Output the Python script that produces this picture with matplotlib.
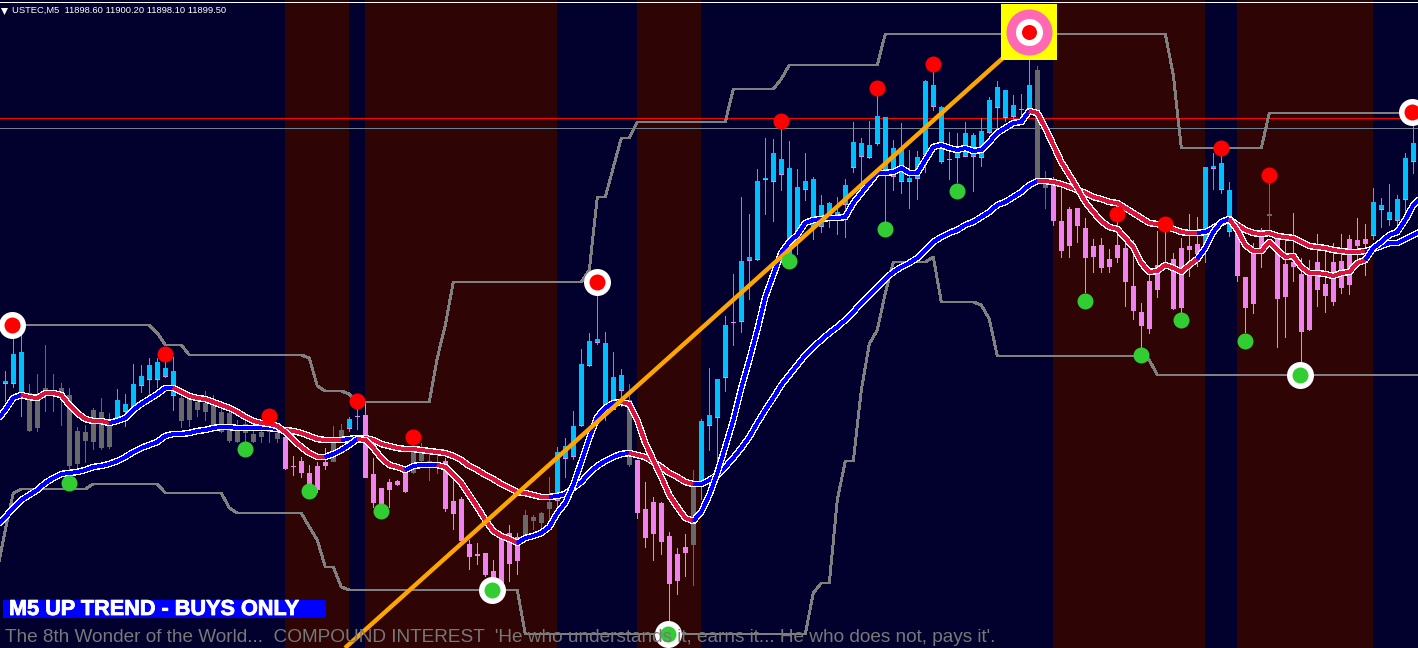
import numpy as np
import matplotlib
matplotlib.use("Agg")
import matplotlib.pyplot as plt
import matplotlib.patheffects as pe

WIDTH, HEIGHT = 1418, 648
X0, STEP = 5.3, 8.0

# Candles; y values are read from the picture on the chart's vertical scale (no price axis is shown)
kinds = list(
    "bbb" + "g"*11 + "b"*8 + "g"*13 + "p"*6 + "gg" + "bb" + "p"*6 + "gggg" + "p"*10 + "gggg"
    + "b"*9 + "g" + "p"*7 + "g" + "b"*42 + "gg" + "p"*19 + "b"*4 + "pppp" + "g" + "p"*12 + "b"*6)
body_top = [381,354,352,393,401,388,393,388,395,431,432,410,412,422,400,404,384,376,365,362,368,371,398,399,402,403,403,412,413,430,424,434,432,428,433,
            437,466,461,473,466,462,443,430,419,416,415,474,488,482,481,473,452,447,461,462,461,501,499,544,554,553,571,538,533,537,515,517,513,502,
            452,446,426,364,341,339,343,377,375,400,460,509,502,503,536,554,547,485,421,415,379,325,322,261,257,181,178,153,159,168,187,181,179,205,203,212,185,142,143,145,116,117,148,150,178,157,81,85,107,159,150,133,135,131,100,87,90,105,109,85,
            70,183,185,221,209,208,228,246,245,259,245,248,286,312,281,265,263,259,248,246,244,167,166,163,190,233,277,252,230,214,238,264,262,274,275,262,284,262,261,239,240,239,202,205,212,199,158,143]
body_bot = [384,384,394,431,428,395,396,394,466,464,441,442,448,447,418,412,410,386,380,380,377,396,421,420,410,412,427,432,441,442,433,442,437,432,439,
            469,467,473,490,490,466,462,440,429,417,478,503,515,490,485,492,473,461,463,463,509,514,541,557,556,575,580,583,564,561,537,521,523,509,
            501,459,457,426,366,343,410,410,391,465,513,538,534,542,584,581,553,545,485,426,418,378,323,322,261,260,180,182,175,257,240,190,227,227,218,215,205,168,157,158,144,170,177,182,182,179,155,107,162,160,158,157,157,158,133,108,118,117,110,110,
            178,188,221,251,246,226,258,257,268,267,258,282,311,326,329,290,265,309,308,250,254,244,169,190,232,276,308,304,248,216,299,297,267,332,330,290,296,302,288,285,246,244,236,210,220,221,200,162]
wick_hi = [371,339,335,384,374,345,374,383,388,427,425,408,398,413,389,394,364,365,358,358,353,357,393,392,397,391,395,403,407,420,420,425,422,423,428,
           433,456,457,465,462,448,426,424,417,408,402,458,488,479,480,470,443,443,453,453,458,480,497,540,543,553,560,537,525,533,510,515,512,477,
           447,438,411,349,333,295,332,352,369,384,460,482,497,502,532,548,534,470,419,368,379,316,274,197,214,169,138,139,121,141,169,153,177,195,202,197,179,122,138,121,88,117,140,123,150,151,80,70,106,132,133,122,133,118,97,81,90,95,94,60,
           66,171,177,188,207,208,218,239,238,249,217,243,240,303,270,231,232,253,238,214,217,167,153,155,182,223,277,243,228,183,233,240,213,258,260,234,245,243,234,235,218,224,188,198,184,195,153,120]
wick_lo = [402,388,417,432,432,412,412,426,470,470,463,450,450,449,423,427,415,393,397,388,378,411,428,427,417,421,432,433,443,443,442,443,443,443,443,
           470,476,478,493,493,470,462,442,432,430,478,508,515,508,486,493,474,463,481,474,512,530,543,570,565,577,583,587,582,575,540,530,532,523,
           513,478,460,427,367,345,421,410,407,467,519,548,561,555,622,595,577,586,500,451,463,392,346,333,300,261,215,222,191,257,255,201,240,233,228,235,238,173,183,159,146,222,191,194,209,200,173,111,164,180,183,157,192,167,134,133,122,122,118,112,
           178,209,226,258,258,243,293,273,273,273,263,307,320,348,334,298,263,310,313,277,267,263,190,194,237,282,333,314,268,232,348,338,282,363,331,307,313,306,294,295,265,276,240,228,226,228,223,174]

# Moving averages, from the candle before the first one to the one after the last
fast_ma = [420,410,398,395,397,398,393,393,395,405,413,419,421,421,423,421,418,410,404,399,394,388,388,392,396,398,399,402,405,408,412,417,421,423,424,426,
           432,440,447,453,457,457,454,450,445,439,440,448,458,465,467,470,466,465,465,465,467,475,483,495,507,520,531,536,539,543,538,536,533,527,513,503,485,462,438,417,408,403,402,404,420,443,460,477,495,507,518,521,512,495,473,447,420,388,360,330,297,275,
           253,242,235,223,220,219,218,218,217,203,193,183,173,173,172,168,173,173,160,147,145,148,150,148,151,150,142,133,128,123,122,111,113,128,145,162,175,188,202,212,221,227,229,238,247,263,272,271,265,268,272,265,259,248,232,222,219,230,245,251,251,242,250,257,256,267,273,273,274,276,273,272,263,260,248,242,235,232,220,205,197]
slow_ma = [525,517,508,500,495,490,483,478,474,473,472,470,467,466,464,461,457,452,448,445,442,436,434,434,433,431,430,428,427,427,428,428,428,428,428,429,
           430,431,433,436,439,440,440,440,439,438,438,440,444,446,448,449,449,450,451,452,453,456,460,466,470,475,479,484,488,492,493,495,497,497,496,494,488,482,473,466,461,457,454,453,455,457,462,467,473,477,482,484,484,480,475,467,458,448,437,423,410,398,
           385,375,365,355,347,340,333,327,320,312,303,295,287,279,272,267,263,258,250,242,237,233,230,225,222,217,212,205,202,197,192,185,181,181,182,184,187,190,193,197,199,202,203,208,213,218,223,224,226,229,232,233,233,232,228,223,219,225,230,233,234,233,236,237,238,242,246,247,248,250,251,252,252,251,249,246,243,243,239,235,231]
# Candle index where each line turns colour; the first stretch is blue
fast_turns = [2,13,21,40,44,50,54,64,77,86,128,149,153,170]
slow_turns = [34,42,44,68,78,86,129,149,153,170]

# Channel outline as (candle index, level)
upper_i = [-1,18,19,20,22,23,37,38,39,40,42,43,44,53,54,55,56,72,73,74,75,77,78,79,90,91,96,97,98,109,110,145,146,147,157,158,177]
upper_y = [325,325,333,345,345,355,355,358,386,391,391,394,402,402,358,325,282,282,270,197,197,138,138,122,122,89,89,79,65,65,34,34,75,148,148,113,113]
lower_i = [-1,0,1,2,10,11,19,20,27,28,29,37,38,39,40,41,42,43,64,65,100,101,102,103,104,105,106,107,108,109,110,111,115,116,117,121,122,123,124,142,143,144,177]
lower_y = [570,530,493,489,489,484,484,493,493,508,513,513,527,540,567,567,587,590,590,634,634,593,583,583,500,461,461,390,344,330,293,262,262,257,302,302,305,319,356,356,360,375,375]

# Background stretches (candle index from, to) in dark red
red_bands = [(35,43),(45,69),(79,87),(131,150),(154,171)]

# Signal dots
red_dot_i = [20,33,44,51,97,109,116,139,145,152,158]
red_dot_y = [354,416,401,437,121,88,64,214,224,148,175]
green_dot_i = [8,30,38,47,98,110,119,135,142,147,155]
green_dot_y = [483,449,491,511,261,229,191,301,355,320,341]
ring_red_i = [0.85,73.9,175.8]
ring_red_y = [325,282,112]
ring_green_i = [60.85,82.85,161.85]
ring_green_y = [590,634,375]
target_i, target_y = 127.9, 32

red_level, gray_level = 118, 128
trend_i = [42.46, 124.7]
trend_y = [648, 58]

header = "USTEC,M5  11898.60 11900.20 11898.10 11899.50"
banner = "M5 UP TREND - BUYS ONLY"
quote = "The 8th Wonder of the World...  COMPOUND INTEREST  'He who understands it, earns it... He who does not, pays it'."

NAVY, MAROON = "#02012E", "#2E0404"
COL = {"b": "#00BFFF", "g": "#696969", "p": "#EE82EE"}
WICK = {"b": "#1CB8EE", "g": "#696969", "p": "#EE82EE"}

def px(x):
    return (x - X0) / STEP

def dot(d):
    return (d * 72 / 100) ** 2

lw = lambda p: p * 0.72

fig = plt.figure(figsize=(WIDTH / 100, HEIGHT / 100), dpi=100, facecolor=NAVY)
ax = fig.add_axes([0, 0, 1, 1])
ax.set_facecolor(NAVY)
ax.set_xlim(px(0), px(WIDTH))
ax.set_ylim(HEIGHT, 0)
ax.axis("off")

for a, b in red_bands:
    ax.axvspan(a, b, color=MAROON, lw=0, zorder=1)
ax.axhspan(2, 3, color="white", lw=0, zorder=9)
ax.axhspan(red_level, red_level + 1, color="#FF0000", lw=0, zorder=2)
ax.axhspan(gray_level, gray_level + 1, color="#708090", lw=0, zorder=2)

n = min(len(kinds), len(body_top), len(body_bot), len(wick_hi), len(wick_lo))
idx = np.arange(n)
top, bot, hi, lo = map(lambda a: np.array(a[:n], float), (body_top, body_bot, wick_hi, wick_lo))
kk = np.array(kinds[:n])
for k in "gpb":
    m = kk == k
    ax.bar(idx[m], lo[m] - hi[m], bottom=hi[m], width=1.0 / STEP, color=WICK[k], lw=0, zorder=3)
    ax.bar(idx[m], bot[m] - top[m], bottom=top[m], width=5.6 / STEP, color=COL[k], lw=0, zorder=4)
m = kk == "b"
ax.bar(idx[m], 1, bottom=bot[m] - 1, width=5.6 / STEP, color="#EE82EE", lw=0, zorder=4.1)

ax.plot(upper_i, upper_y, color="#808080", lw=lw(1.9), antialiased=False, zorder=5)
ax.plot(lower_i, lower_y, color="#808080", lw=lw(1.9), antialiased=False, zorder=5)

def ma(values, turns, z):
    x = np.arange(len(values)) - 1
    y = np.array(values, float)
    ax.plot(x, y, color="white", lw=lw(5.6), antialiased=False, zorder=z, solid_capstyle="butt", solid_joinstyle="round")
    edges = [-1] + turns + [len(values) - 2]
    for j in range(len(edges) - 1):
        s = (x >= edges[j]) & (x <= edges[j + 1])
        ax.plot(x[s], y[s], color="#0000FF" if j % 2 == 0 else "#DC143C", lw=lw(2.9), antialiased=False, zorder=z + 0.1,
                solid_capstyle="butt", solid_joinstyle="round")

ma(slow_ma, slow_turns, 6)
ma(fast_ma, fast_turns, 6.5)

ax.plot(trend_i, trend_y, color="#FFA500", lw=lw(4.4), zorder=7, solid_capstyle="butt")

ax.scatter(red_dot_i, red_dot_y, s=dot(16), c="#FF0000", lw=0, zorder=8)
ax.scatter(green_dot_i, green_dot_y, s=dot(16), c="#32CD32", lw=0, zorder=8)
ax.scatter(ring_red_i + ring_green_i, ring_red_y + ring_green_y, s=dot(27), c="white", lw=0, zorder=8)
ax.scatter(ring_red_i, ring_red_y, s=dot(16), c="#FF0000", lw=0, zorder=8.1)
ax.scatter(ring_green_i, ring_green_y, s=dot(16), c="#32CD32", lw=0, zorder=8.1)

ax.scatter([target_i], [target_y], s=dot(56), marker="s", c="#FFFF00", lw=0, zorder=8)
ax.scatter([target_i], [target_y], s=dot(46), c="#FF69B4", lw=0, zorder=8.1)
ax.scatter([target_i], [target_y], s=dot(27), c="white", lw=0, zorder=8.2)
ax.scatter([target_i], [target_y], s=dot(15), c="#FF0000", lw=0, zorder=8.3)

ax.scatter([px(4)], [10.5], s=dot(7), marker="v", c="white", lw=0, zorder=10)
ax.text(px(12.5), 10.5, header, color="white", fontsize=6.78, family="Liberation Sans", va="center", ha="left", zorder=10)

ax.bar(px(164.5), 18, bottom=600, width=323 / STEP, color="#0000FF", lw=0, zorder=10)
ax.text(px(9), 609.5, banner, color="white", fontsize=15.6, fontweight="bold", family="Liberation Sans",
        va="center", ha="left", zorder=11,
        path_effects=[pe.withStroke(linewidth=0.6, foreground="white")])
ax.text(px(5), 637, quote, color="#787878", fontsize=13.68, family="Liberation Sans", va="center", ha="left", zorder=11)

fig.savefig("out.png", dpi=100, facecolor=NAVY)
